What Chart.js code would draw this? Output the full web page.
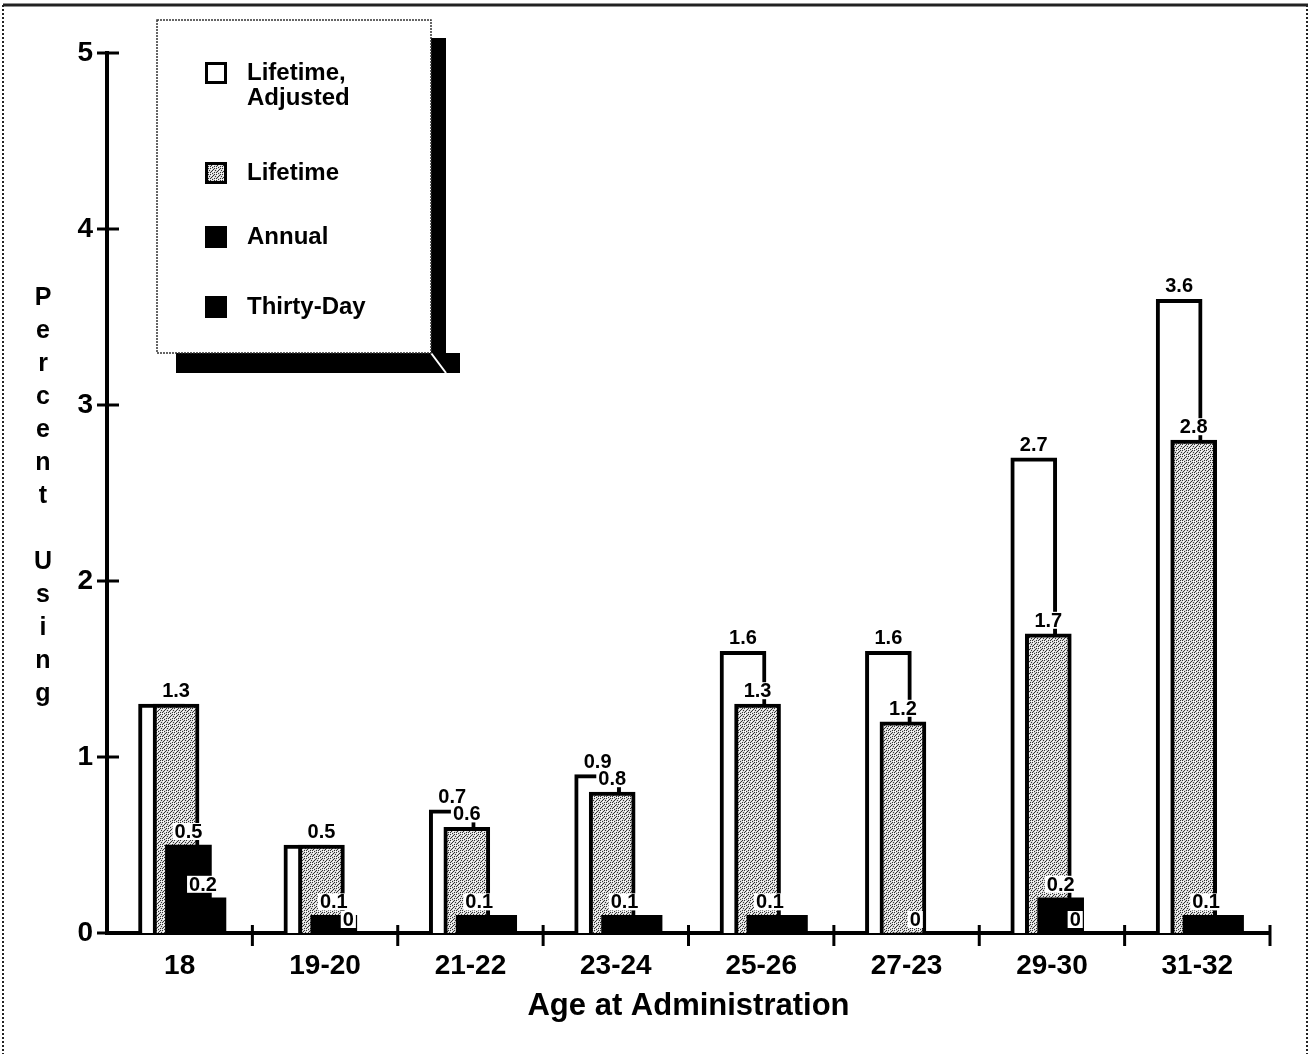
<!DOCTYPE html>
<html lang="en">
<head>
<meta charset="UTF-8">
<title>Percent Using by Age at Administration</title>
<script src="https://cdn.jsdelivr.net/npm/chart.js"></script>
<style>
  body { margin: 0; background: #fff; }
  canvas { display: block; }
</style>
</head>
<body>
<canvas id="chart" width="1312" height="1054"></canvas>
<script>
// data
const ageGroups = ['18', '19-20', '21-22', '23-24', '25-26', '27-23', '29-30', '31-32'];
const seriesNames = ['Lifetime, Adjusted', 'Lifetime', 'Annual', 'Thirty-Day'];
const lifetimeAdjusted = [1.3, 0.5, 0.7, 0.9, 1.6, 1.6, 2.7, 3.6];
const lifetime = [1.3, 0.5, 0.6, 0.8, 1.3, 1.2, 1.7, 2.8];
const annual = [0.5, 0.1, 0.1, 0.1, 0.1, 0, 0.2, 0.1];
const thirtyDay = [0.2, 0, 0.1, 0.1, 0.1, 0, 0, 0.1];
const yTicks = [0, 1, 2, 3, 4, 5];

const seriesValues = [lifetimeAdjusted, lifetime, annual, thirtyDay];
const FONT = '"Liberation Sans", Arial, Helvetica, sans-serif';

const canvas = document.getElementById('chart');
const ctx0 = canvas.getContext('2d');

// stippled grey fill for the "Lifetime" bars
function makeStipple() {
    const c = document.createElement('canvas');
    c.width = 6; c.height = 6;
    const g = c.getContext('2d');
    g.fillStyle = '#dcdcdc';
    g.fillRect(0, 0, 6, 6);
    g.fillStyle = '#333';
    [[0, 0], [3, 1], [1, 3], [4, 4], [2, 5], [5, 2], [0, 4], [4, 0], [2, 2]].forEach(p => g.fillRect(p[0], p[1], 1, 1));
    g.fillStyle = '#fff';
    [[1, 1], [5, 5], [3, 3], [1, 5]].forEach(p => g.fillRect(p[0], p[1], 1, 1));
    return ctx0.createPattern(c, 'repeat');
}
const stipple = makeStipple();

// overlapping bars: each series is shifted a bit inside its category
const fills = ['#ffffff', stipple, '#000000', '#000000'];
const shift = [-0.125, -0.025, 0.06, 0.16];

const datasets = seriesValues.map((vals, s) => ({
    label: seriesNames[s],
    data: vals.map((v, i) => ({ x: i + shift[s], y: v })),
    backgroundColor: fills[s],
    borderColor: '#000',
    borderWidth: s < 2 ? 4 : 0,
    barThickness: 46,
    grouped: false,
    order: seriesValues.length - s,   // later series drawn on top
    xAxisID: 'xb',
    yAxisID: 'y'
}));

// value labels above bars (white box behind text)
const valueLabels = {
    id: 'valueLabels',
    afterDatasetsDraw(chart) {
        const ctx = chart.ctx;
        ctx.save();
        ctx.font = 'bold 20px ' + FONT;
        ctx.textAlign = 'center';
        ctx.textBaseline = 'alphabetic';
        seriesValues.forEach((vals, s) => {
            const twin = seriesValues[s ^ 1];
            chart.getDatasetMeta(s).data.forEach((bar, i) => {
                const v = vals[i];
                // same value as the neighbouring series: only one label
                if ((s === 0 || s === 3) && twin[i] === v) return;
                const txt = String(v);
                const w = ctx.measureText(txt).width;
                const yb = bar.y - 7;
                ctx.fillStyle = '#fff';
                ctx.fillRect(bar.x - w / 2 - 2, yb - 15, w + 4, 17);
                ctx.fillStyle = '#000';
                ctx.fillText(txt, bar.x, yb);
            });
        });
        ctx.restore();
    }
};

// tick marks crossing the axes, y title, legend box and frame
const decorations = {
    id: 'decorations',
    afterDraw(chart) {
        const { ctx, chartArea, scales } = chart;
        ctx.save();
        ctx.strokeStyle = '#000';
        ctx.lineWidth = 3;
        const ax = chartArea.left;
        yTicks.forEach(t => {
            const py = scales.y.getPixelForValue(t);
            ctx.beginPath();
            ctx.moveTo(ax - 10, py);
            ctx.lineTo(ax + 12, py);
            ctx.stroke();
        });
        for (let i = 1; i <= ageGroups.length; i++) {
            const px = scales.xb.getPixelForValue(i - 0.5);
            ctx.beginPath();
            ctx.moveTo(px, chartArea.bottom - 8);
            ctx.lineTo(px, chartArea.bottom + 13);
            ctx.stroke();
        }

        // stacked y title
        ctx.fillStyle = '#000';
        ctx.font = 'bold 25px ' + FONT;
        ctx.textAlign = 'center';
        ctx.textBaseline = 'middle';
        'Percent Using'.split('').forEach((ch, k) => {
            if (ch !== ' ') ctx.fillText(ch, 43, 298 + k * 33);
        });

        // legend box with drop shadow
        const bx = 157, by = 20, bw = 274, bh = 333;
        ctx.fillStyle = '#000';
        ctx.fillRect(bx + bw, by + 18, 15, bh + 2);
        ctx.fillRect(bx + 19, by + bh, bw + 10, 20);
        ctx.fillStyle = '#fff';
        ctx.fillRect(bx, by, bw, bh);
        ctx.strokeStyle = '#fff';
        ctx.lineWidth = 2;
        ctx.beginPath();
        ctx.moveTo(bx + bw, by + bh);
        ctx.lineTo(bx + bw + 15, by + bh + 20);
        ctx.stroke();
        ctx.strokeStyle = '#333';
        ctx.lineWidth = 1.5;
        ctx.setLineDash([2, 1]);
        ctx.strokeRect(bx, by, bw, bh);
        ctx.setLineDash([]);

        const rowY = [73, 173, 237, 307];
        ctx.font = 'bold 24px ' + FONT;
        ctx.textAlign = 'left';
        ctx.textBaseline = 'middle';
        chart.data.datasets.forEach((ds, s) => {
            const y = rowY[s];
            ctx.fillStyle = ds.backgroundColor;
            ctx.fillRect(205, y - 11, 22, 22);
            ctx.strokeStyle = '#000';
            ctx.lineWidth = 3;
            ctx.strokeRect(206.5, y - 9.5, 19, 19);
            ctx.fillStyle = '#000';
            const lines = ds.label.split(', ');
            lines.forEach((ln, j) => {
                const t = j < lines.length - 1 ? ln + ',' : ln;
                ctx.fillText(t, 247, y + j * 25);
            });
        });

        // dotted outer frame
        ctx.strokeStyle = '#222';
        ctx.lineWidth = 3;
        ctx.beginPath();
        ctx.moveTo(3, 5); ctx.lineTo(1308, 5);
        ctx.stroke();
        ctx.lineWidth = 2;
        ctx.setLineDash([2, 2]);
        ctx.beginPath();
        ctx.moveTo(3, 5); ctx.lineTo(3, 1054);
        ctx.moveTo(1307, 5); ctx.lineTo(1307, 1054);
        ctx.stroke();
        ctx.restore();
    }
};

new Chart(canvas, {
    type: 'bar',
    data: {
        labels: ageGroups,
        datasets: datasets
    },
    options: {
        responsive: false,
        animation: false,
        layout: { padding: { left: 0, right: 42, top: 53, bottom: 0 } },
        plugins: {
            legend: { display: false },
            tooltip: { enabled: false }
        },
        scales: {
            x: {
                type: 'category',
                offset: true,
                grid: { display: false, drawTicks: false },
                border: { display: true, color: '#000', width: 4 },
                ticks: {
                    color: '#000',
                    padding: 16,
                    maxRotation: 0,
                    font: { family: FONT, size: 28, weight: 'bold' }
                },
                title: {
                    display: true,
                    text: 'Age at Administration',
                    color: '#000',
                    padding: { top: 0, bottom: 29 },
                    font: { family: FONT, size: 31, weight: 'bold' }
                },
                afterFit: s => { s.height = 121; }
            },
            xb: {
                type: 'linear',
                display: false,
                offset: false,
                grid: { offset: false },
                min: -0.5,
                max: ageGroups.length - 0.5
            },
            y: {
                min: 0,
                max: 5,
                grid: { display: false, drawTicks: false },
                border: { display: true, color: '#000', width: 4 },
                ticks: {
                    stepSize: 1,
                    color: '#000',
                    padding: 14,
                    font: { family: FONT, size: 28, weight: 'bold' }
                },
                afterFit: s => { s.width = 107; }
            }
        }
    },
    plugins: [valueLabels, decorations]
});
</script>
</body>
</html>
